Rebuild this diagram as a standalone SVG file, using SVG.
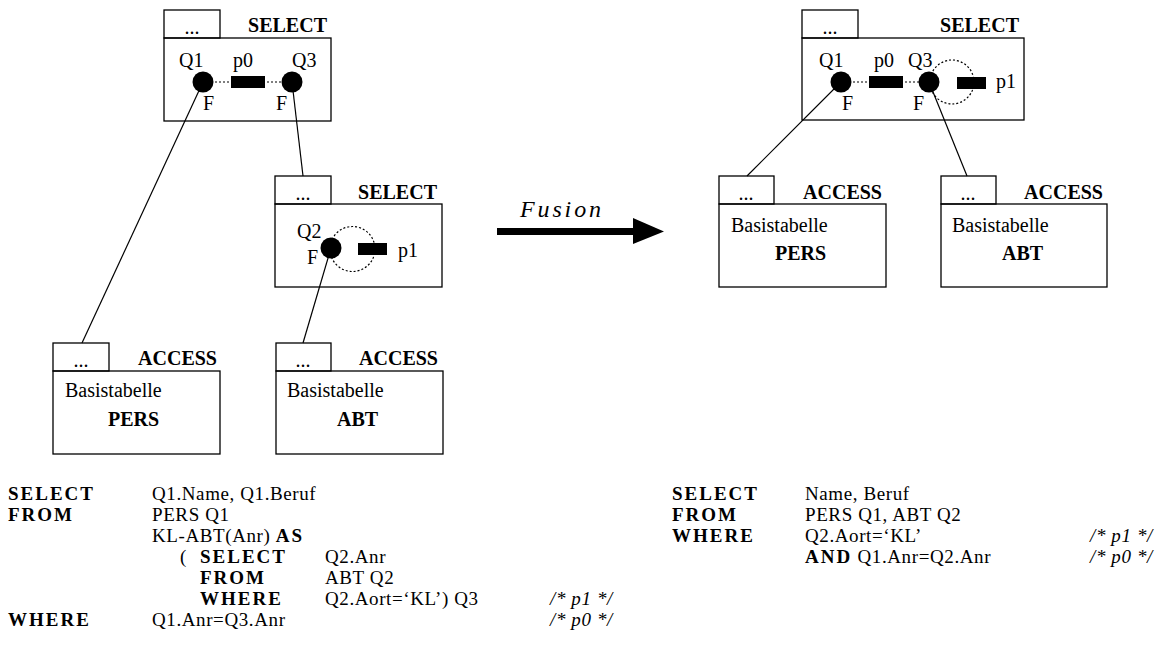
<svg xmlns="http://www.w3.org/2000/svg" width="1157" height="660" viewBox="0 0 1157 660">
<style>
.box{fill:none;stroke:#000;stroke-width:1.3}
.t{font-size:20px;fill:#000}
.b{font-weight:bold}
.dot{stroke:#000;stroke-width:1.2;stroke-dasharray:2 2;fill:none}
.ln{stroke:#000;stroke-width:1.2;fill:none}
.q{fill:#000}
.sql{font-size:19px;fill:#000;letter-spacing:0.6px}
.kw{font-weight:bold;letter-spacing:2px}
.cm{font-style:italic}
</style>
<rect width="1157" height="660" fill="#fff"/>

<g id="connectors">
<line class="ln" x1="203" y1="82" x2="82" y2="343"/>
<line class="ln" x1="292" y1="82" x2="303" y2="176"/>
<line class="ln" x1="331" y1="248" x2="303" y2="343"/>
<line class="ln" x1="841" y1="82" x2="747" y2="176"/>
<line class="ln" x1="929" y1="82" x2="967" y2="176"/>
</g>

<g font-family="'Liberation Serif', 'DejaVu Serif', serif">
<g id="select-top-left">
<rect class="box" x="164" y="10" width="56" height="28"/>
<rect class="box" x="164" y="38" width="167" height="83"/>
<text class="t" x="192" y="34" text-anchor="middle">...</text>
<text class="t b" x="327" y="32" text-anchor="end">SELECT</text>
<line class="dot" x1="203" y1="82" x2="292" y2="82"/>
<rect x="231" y="76" width="34" height="12" fill="#000"/>
<circle class="q" cx="203" cy="82" r="10.5"/>
<circle class="q" cx="292" cy="82" r="10.5"/>
<text class="t" x="179" y="67">Q1</text>
<text class="t" x="233" y="67">p0</text>
<text class="t" x="292" y="67">Q3</text>
<text class="t" x="203" y="110">F</text>
<text class="t" x="276" y="110">F</text>
</g>

<g id="select-mid">
<rect class="box" x="275" y="176" width="56" height="28"/>
<rect class="box" x="275" y="204" width="167" height="83"/>
<text class="t" x="303" y="200" text-anchor="middle">...</text>
<text class="t b" x="437" y="199" text-anchor="end">SELECT</text>
<circle class="dot" cx="352.5" cy="249" r="22.5"/>
<rect x="358" y="243" width="29" height="12" fill="#000"/>
<circle class="q" cx="331" cy="248" r="10.5"/>
<text class="t" x="297" y="238">Q2</text>
<text class="t" x="307" y="264">F</text>
<text class="t" x="398" y="257">p1</text>
</g>

<g id="access-pers-left">
<rect class="box" x="53" y="343" width="56" height="28"/>
<rect class="box" x="53" y="371" width="167" height="83"/>
<text class="t" x="81" y="367" text-anchor="middle">...</text>
<text class="t b" x="217" y="365" text-anchor="end">ACCESS</text>
<text class="t" x="65" y="397">Basistabelle</text>
<text class="t b" x="108" y="426">PERS</text>
</g>

<g id="access-abt-left">
<rect class="box" x="276" y="343" width="55" height="28"/>
<rect class="box" x="276" y="371" width="167" height="83"/>
<text class="t" x="303" y="367" text-anchor="middle">...</text>
<text class="t b" x="438" y="365" text-anchor="end">ACCESS</text>
<text class="t" x="287" y="397">Basistabelle</text>
<text class="t b" x="337" y="426">ABT</text>
</g>

<g id="fusion">
<rect x="497" y="228" width="137" height="7" fill="#000"/>
<polygon points="633,218 664,231.5 633,244" fill="#000"/>
<text x="520" y="217" font-size="24" font-style="italic" textLength="81" lengthAdjust="spacing">Fusion</text>
</g>

<g id="select-top-right">
<rect class="box" x="802" y="10" width="56" height="28"/>
<rect class="box" x="802" y="38" width="222" height="82"/>
<text class="t" x="830" y="34" text-anchor="middle">...</text>
<text class="t b" x="1019" y="32" text-anchor="end">SELECT</text>
<line class="dot" x1="841" y1="82" x2="929" y2="82"/>
<circle class="dot" cx="952" cy="82" r="22"/>
<rect x="869" y="76" width="34" height="12" fill="#000"/>
<rect x="957" y="77" width="29" height="12" fill="#000"/>
<circle class="q" cx="841" cy="82" r="10.5"/>
<circle class="q" cx="929" cy="82" r="10.5"/>
<text class="t" x="819" y="67">Q1</text>
<text class="t" x="874" y="67">p0</text>
<text class="t" x="908" y="67">Q3</text>
<text class="t" x="842" y="110">F</text>
<text class="t" x="913" y="110">F</text>
<text class="t" x="996" y="88">p1</text>
</g>

<g id="access-pers-right">
<rect class="box" x="719" y="176" width="55" height="28"/>
<rect class="box" x="719" y="204" width="167" height="83"/>
<text class="t" x="746" y="200" text-anchor="middle">...</text>
<text class="t b" x="882" y="199" text-anchor="end">ACCESS</text>
<text class="t" x="731" y="232">Basistabelle</text>
<text class="t b" x="775" y="260">PERS</text>
</g>

<g id="access-abt-right">
<rect class="box" x="941" y="176" width="55" height="28"/>
<rect class="box" x="941" y="204" width="166" height="83"/>
<text class="t" x="968" y="200" text-anchor="middle">...</text>
<text class="t b" x="1103" y="199" text-anchor="end">ACCESS</text>
<text class="t" x="952" y="232">Basistabelle</text>
<text class="t b" x="1002" y="260">ABT</text>
</g>

<g id="sql-left" class="sql">
<text class="kw" x="8" y="500">SELECT</text>
<text x="152" y="500">Q1.Name, Q1.Beruf</text>
<text class="kw" x="8" y="521">FROM</text>
<text x="152" y="521">PERS Q1</text>
<text x="152" y="542">KL-ABT(Anr) <tspan class="kw">AS</tspan></text>
<text x="180" y="563">(</text>
<text class="kw" x="200" y="563">SELECT</text>
<text x="325" y="563">Q2.Anr</text>
<text class="kw" x="200" y="584">FROM</text>
<text x="325" y="584">ABT Q2</text>
<text class="kw" x="200" y="605">WHERE</text>
<text x="325" y="605">Q2.Aort=‘KL’) Q3</text>
<text class="cm" x="550" y="605">/* p1 */</text>
<text class="kw" x="8" y="626">WHERE</text>
<text x="152" y="626">Q1.Anr=Q3.Anr</text>
<text class="cm" x="550" y="626">/* p0 */</text>
</g>

<g id="sql-right" class="sql">
<text class="kw" x="672" y="500">SELECT</text>
<text x="805" y="500">Name, Beruf</text>
<text class="kw" x="672" y="521">FROM</text>
<text x="805" y="521">PERS Q1, ABT Q2</text>
<text class="kw" x="672" y="542">WHERE</text>
<text x="805" y="542">Q2.Aort=‘KL’</text>
<text class="cm" x="1090" y="542">/* p1 */</text>
<text x="805" y="563"><tspan class="kw">AND</tspan> Q1.Anr=Q2.Anr</text>
<text class="cm" x="1090" y="563">/* p0 */</text>
</g>
</g>
</svg>
